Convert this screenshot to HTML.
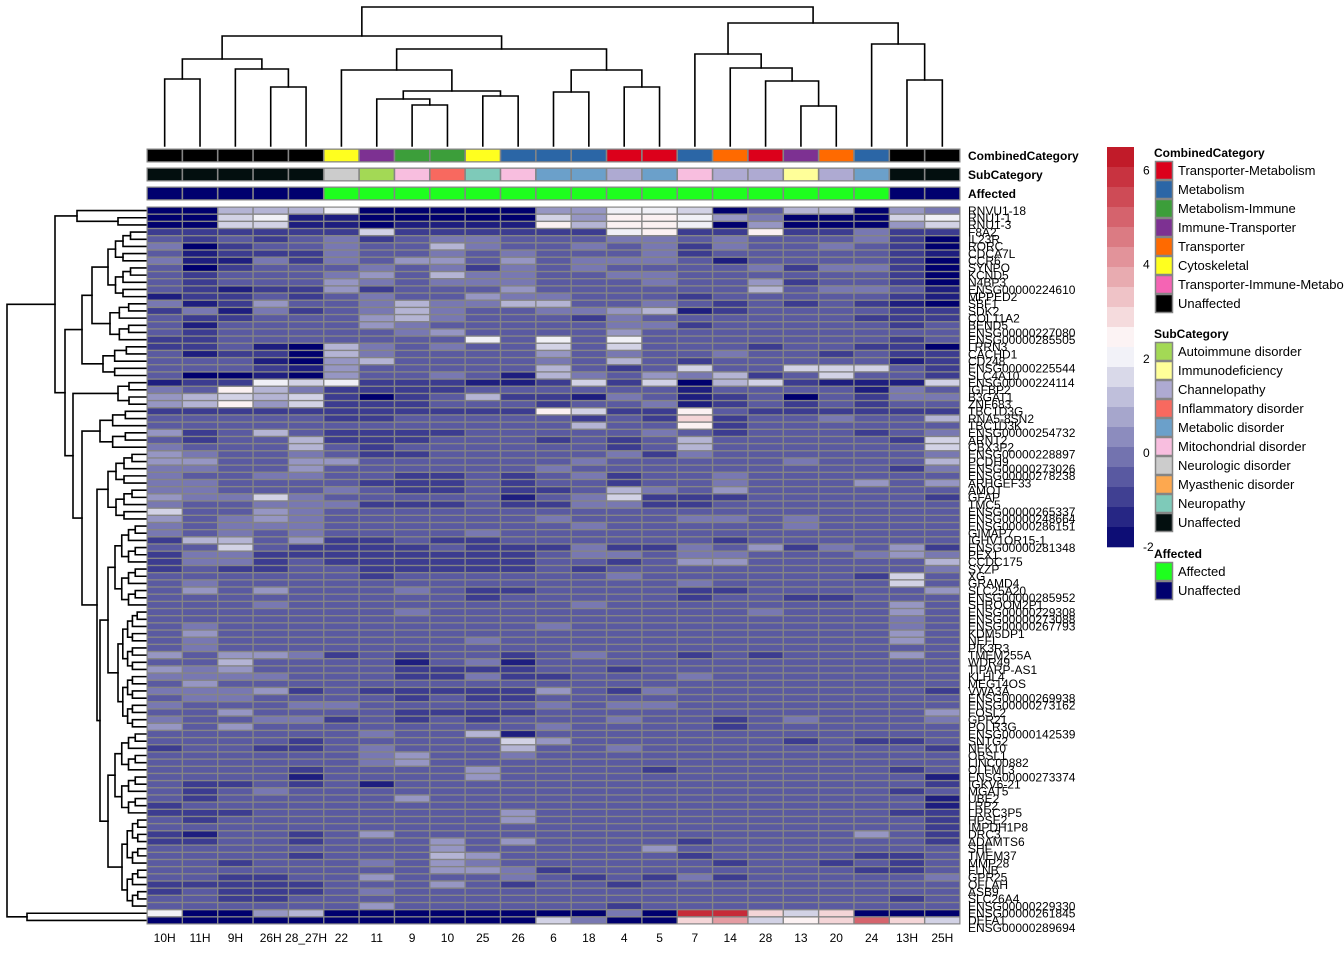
<!DOCTYPE html>
<html><head><meta charset="utf-8"><style>
html,body{margin:0;padding:0;background:#fff;}
svg{display:block;font-family:"Liberation Sans",Arial,sans-serif;}
</style></head><body>
<svg id="chart" width="1344" height="960" viewBox="0 0 1344 960" xmlns="http://www.w3.org/2000/svg">
<g id="dendro-col"></g>
<g id="dendro-row"></g>
<g id="annot"></g>
<g id="cells"></g>
<g id="rowlabels" font-size="12"></g>
<g id="collabels" font-size="12"></g>
<g id="legend" font-size="12"></g>
</svg>
<script>
// ---- data ----
const columns = ["10H","11H","9H","26H","28_27H","22","11","9","10","25","26","6","18","4","5","7","14","28","13","20","24","13H","25H"];
const combinedCat = ["Unaffected","Unaffected","Unaffected","Unaffected","Unaffected","Cytoskeletal","Immune-Transporter","Metabolism-Immune","Metabolism-Immune","Cytoskeletal","Metabolism","Metabolism","Metabolism","Transporter-Metabolism","Transporter-Metabolism","Metabolism","Transporter","Transporter-Metabolism","Immune-Transporter","Transporter","Metabolism","Unaffected","Unaffected"];
const subCat = ["Unaffected","Unaffected","Unaffected","Unaffected","Unaffected","Neurologic disorder","Autoimmune disorder","Mitochondrial disorder","Inflammatory disorder","Neuropathy","Mitochondrial disorder","Metabolic disorder","Metabolic disorder","Channelopathy","Metabolic disorder","Mitochondrial disorder","Channelopathy","Channelopathy","Immunodeficiency","Channelopathy","Metabolic disorder","Unaffected","Unaffected"];
const affected = ["Unaffected","Unaffected","Unaffected","Unaffected","Unaffected","Affected","Affected","Affected","Affected","Affected","Affected","Affected","Affected","Affected","Affected","Affected","Affected","Affected","Affected","Affected","Affected","Unaffected","Unaffected"];
const rowLabels = ["RNVU1-18","RNU1-1","RNU1-3","F8A2","IL23R","RORC","CDCA7L","CCR6","SYNPO","KCND5","N4BP3","ENSG00000224610","MPPED2","SBF1","SDK2","COL11A2","BEND5","ENSG00000227080","ENSG00000285505","LRRN3","CACHD1","CD248","ENSG00000225544","SLC4A10","ENSG00000224114","IGFBP2","B3GAT1","ZNF683","TBC1D3G","RNA5-8SN2","TBC1D3K","ENSG00000254732","ARNT2","CBX3P2","ENSG00000228897","PCDH9","ENSG00000273026","ENSG00000278238","ARHGEF33","AMOT","GFAP","TMC5","ENSG00000265337","ENSG00000248664","ENSG00000286151","GIMAP7","IGHV1OR15-1","ENSG00000281348","PEX1","CCDC175","SYZP","XG","GRAMD4","SLC25A20","ENSG00000285952","SHROOM2P1","ENSG00000229308","ENSG00000273088","ENSG00000267793","KDM5DP1","NEFL","PIK3R3","TMEM255A","WDR49","TIPARP-AS1","KLHL4","MEG14OS","VWA3A","ENSG00000269938","ENSG00000273162","FOSL2","GPR21","POLR3G","ENSG00000142539","SNTG2","NEK10","OBSL1","LINC00882","OLFML3","ENSG00000273374","IGKV6-21","MGAT5","UBE2","LRP2","LRRC3P5","HPSE2","IMPDH1P8","DRC3","ADAMTS6","SHF","TMEM37","MMP28","FLNB","GPR25","OFLAH","ASB9","SLC26A4","ENSG00000229330","ENSG00000261845","DEFA1","ENSG00000289694"];
// one string per gene row, one char per column; code -> z-score via codeValue
const codeValue = {"0":-2,"1":-1.5,"2":-1,"3":-0.5,"4":0,"5":0.5,"6":1,"7":1.5,"8":2,"9":2.5,"a":3,"b":4,"B":5,"C":6};
const matrixRows = [
"00666800000558870366054","00781100000759985400078","00771101111969980500057","22222272222228922922422",
"32323423443334434333420","40233433643343424334320","31222433434333423333321","41142435535344431333320",
"30233343424343333424420","32333453644334433333320","32333543444333433523320","32122523335333333634431",
"12232343354433323333321","41253346446633432323210","24142346433445612333322","32233356433324333333222",
"31333354333334423333323","32333334533335333333333","22333333383838333333323","22310643433737333233220",
"31220643333534334332322","33310563333436323333312","33321533333632373377732","30010533431643546237332",
"12287822211272706721117","43964222233333313333143","56767202362214312303244","56957222333233412323233",
"22222222222972293222222","333332233333232a2334336","33333333333363392333333","52363222233333432333234",
"32336222333232363333327","43336323333332363333337","54334322333334243333334","55335533333343333343336",
"44335333333433333333324","43344332232342334333333","44333322232332334333535","44333432232236435333333",
"54474333331347222333332","43344422232244223333333","73354333333333333333333","53454333333433344343333",
"43444333333343333343333","43434333343333333333333","26635223223333332333333","33732222322242243524352",
"24422222222344344333454","24423222222332355333336","23223322222323333333334","33333323333334333333273",
"34333333333333343333373","35353334322333322333335","33333333323333323322333","33343333333343333333353",
"33333334333333333433353","33333333333333333333343","34333333333433333333343","35333333333333333333353",
"34333333343333333333353","34333333333333333333333","53554232332343323233353","33633331341333333333333",
"54533332222332333333333","44443332242233343333333","35333333333333333333333","44452322222532433333332",
"34433332322333333333333","43334433333434433333333","33533332222333333333335","43344232323334332343334",
"53533333333433332333333","33333343361333333333333","33332333337533333323223","23322343336334333333332",
"33333345334333333333333","33333345333333333333333","33332333353333233333323","33331333353333333333331",
"32232313333333333333332","32343333333333333333323","32333335333333333333331","23333333333333333333331",
"22233333335333333333322","32333333335333333333332","33333333333333333333332","21332353333333333333532",
"22332333535333323333332","33333333533333533333333","33332333653333323333223","33233343543333332332323",
"33333333554233333333223","33223353334323242333334","22222333532332333333333","23222343333333333333333",
"33223333333333333333323","33333353333332333333333","800560000000040CCa7a000","000000000007400ab79aBa7"
];
const legendTicks = [6,4,2,0,-2];
const combinedLevels = ["Transporter-Metabolism","Metabolism","Metabolism-Immune","Immune-Transporter","Transporter","Cytoskeletal","Transporter-Immune-Metabolism","Unaffected"];
const subLevels = ["Autoimmune disorder","Immunodeficiency","Channelopathy","Inflammatory disorder","Metabolic disorder","Mitochondrial disorder","Neurologic disorder","Myasthenic disorder","Neuropathy","Unaffected"];
const affLevels = ["Affected","Unaffected"];

// ---- styling (not data) ----
const combinedColors = {"Transporter-Metabolism":"#dc001b","Metabolism":"#2b66a6","Metabolism-Immune":"#3c9e3a","Immune-Transporter":"#7d3192","Transporter":"#ff6a00","Cytoskeletal":"#ffff1f","Transporter-Immune-Metabolism":"#f564b4","Unaffected":"#000000"};
const subColors = {"Autoimmune disorder":"#a3d955","Immunodeficiency":"#ffff99","Channelopathy":"#aeaad2","Inflammatory disorder":"#f8695f","Metabolic disorder":"#6ba0ca","Mitochondrial disorder":"#f8bedf","Neurologic disorder":"#cccccc","Myasthenic disorder":"#fda84f","Neuropathy":"#7ecab9","Unaffected":"#030f0f"};
const affColors = {"Affected":"#1eff1e","Unaffected":"#00006e"};

const NS="http://www.w3.org/2000/svg";
function mk(tag, attrs, parent){const e=document.createElementNS(NS,tag);for(const k in attrs)e.setAttribute(k,attrs[k]);parent.appendChild(e);return e;}

const X0=147, X1=960, Y0=207, Y1=924;
const nC=columns.length, nR=matrixRows.length;
const cw=(X1-X0)/nC, ch=(Y1-Y0)/nR;
const VMIN=-2, VMAX=6.5, VMID=(VMIN+VMAX)/2;
function colorOf(v){
  const lo=[0,0,110], mid=[255,255,255], hi=[190,15,30];
  let a,b,t;
  if(v<=VMID){t=Math.max(0,(v-VMIN)/(VMID-VMIN));a=lo;b=mid;}
  else{t=Math.min(1,(v-VMID)/(VMAX-VMID));a=mid;b=hi;}
  const c=a.map((x,i)=>Math.round(x+(b[i]-x)*t));
  return "rgb("+c.join(",")+")";
}
const xOf=i=>X0+i*cw, yOf=r=>Y0+r*ch;

// heatmap
const gc=document.getElementById('cells');
const bg=mk('rect',{x:X0-0.5,y:Y0-0.5,width:X1-X0+1,height:Y1-Y0+1,fill:'#858585'},gc);


matrixRows.forEach((row,r)=>{
  for(let c=0;c<nC;c++){
    const v=codeValue[row[c]]!==undefined?codeValue[row[c]]:-0.5;
    const e=mk('rect',{x:xOf(c)+0.7,y:yOf(r)+0.7,width:cw-1.4,height:ch-1.4,fill:colorOf(v)},gc);
    
    
  }
});

// annotations
const ga=document.getElementById('annot');
const annRows=[[combinedCat,combinedColors,149,"CombinedCategory"],[subCat,subColors,168,"SubCategory"],[affected,affColors,187,"Affected"]];
annRows.forEach(([vals,cols,y,name])=>{
  const b=mk('rect',{x:X0-0.5,y:y-0.5,width:X1-X0+1,height:14,fill:'#858585'},ga);
  
  
  vals.forEach((v,c)=>{
    const e=mk('rect',{x:xOf(c)+0.8,y:y+0.8,width:cw-1.6,height:11.4,fill:cols[v]},ga);
    
    
  });
  const t=mk('text',{x:968,y:y+11,'font-size':12,'font-weight':'bold'},ga);
  t.textContent=name;
  
  
});

// row labels
const gr=document.getElementById('rowlabels');
rowLabels.forEach((l,r)=>{
  const t=mk('text',{x:968,y:yOf(r)+ch/2+4.3},gr);
  t.textContent=l;
  
  
});
// column labels
const gl=document.getElementById('collabels');
columns.forEach((l,c)=>{
  const t=mk('text',{x:xOf(c)+cw/2,y:942,'text-anchor':'middle'},gl);
  t.textContent=l;
  
  
});

// dendrograms
function N(h,ch){return {h:h,ch:ch};}
function R(a,b,h0,hEnd){ // balanced subtree over leaf range
  function build(a,b,h,dh){ if(a===b) return a; const m=Math.floor((a+b)/2); return N(h,[build(a,m,h+dh,dh),build(m+1,b,h+dh,dh)]);}
  const depth=Math.ceil(Math.log2(b-a+1));
  return build(a,b,h0,(hEnd-h0)/Math.max(depth,1));
}
const colTree=N(7,[N(36,[N(59,[N(79,[0,1]),N(69,[2,N(87,[3,4])])]),N(49,[N(70,[5,N(91,[N(99,[6,N(105,[7,8])]),N(96,[9,10])])]),N(70,[N(92,[11,12]),N(87,[13,14])])])]),N(23,[N(54,[15,N(68,[16,N(81,[17,N(106,[18,19])])])]),N(44,[20,N(80,[21,22])])])]);
const rowTree=N(7,[N(55,[N(77,[0,N(118,[1,2])]),N(65,[N(82,[N(92,[R(3,12,108,138),R(13,18,110,138)]),R(19,23,103,138)]),N(73,[R(24,27,118,140),N(82,[R(28,33,100,138),N(97,[R(34,43,108,140),N(100,[N(108,[R(44,55,115,142),R(56,72,118,142)]),N(108,[R(73,84,115,142),R(85,97,122,143)])])])])])])]),N(27,[98,99])]);

function drawTree(tree,g,horizontal){
  const leafH=146;
  function pos(n){ if(typeof n==='number') return {p:(horizontal?xOf(n)+cw/2:yOf(n)+ch/2),h:leafH};
    const ps=n.ch.map(pos);
    const lo=Math.min(...ps.map(q=>q.p)), hi=Math.max(...ps.map(q=>q.p));
    let d='';
    ps.forEach(q=>{ d+= horizontal? `M${q.p},${q.h}V${n.h}` : `M${q.h},${q.p}H${n.h}`; });
    d+= horizontal? `M${lo},${n.h}H${hi}` : `M${n.h},${lo}V${hi}`;
    const e=mk('path',{d:d,stroke:'#000','stroke-width':1.6,fill:'none','stroke-linecap':'square'},g);
    
    
    const mid=(ps[0].p+ps[ps.length-1].p)/2;
    return {p:mid,h:n.h};
  }
  pos(tree);
}
drawTree(colTree,document.getElementById('dendro-col'),true);
drawTree(rowTree,document.getElementById('dendro-row'),false);

// legend
const lg=document.getElementById('legend');
const nb=20, by0=147, by1=547, bh=(by1-by0)/nb;
for(let i=0;i<nb;i++){
  const v=VMAX-(i+0.5)*(VMAX-VMIN)/nb;
  const e=mk('rect',{x:1107,y:by0+i*bh,width:27,height:bh+0.3,fill:colorOf(v)},lg);
  
  
}
legendTicks.forEach(v=>{
  const y=by0+(VMAX-v)/(VMAX-VMIN)*(by1-by0);
  const t=mk('text',{x:1143,y:y+4},lg);
  t.textContent=String(v);
  
  
});
function legendGroup(title,levels,cols,ty){
  const t=mk('text',{x:1154,y:ty+4,'font-weight':'bold'},lg);
  t.textContent=title;
  
  
  levels.forEach((l,i)=>{
    const y=ty+8+i*19;
    const r=mk('rect',{x:1155.5,y:y+0.5,width:17,height:18,fill:cols[l],stroke:'#858585','stroke-width':1.5},lg);
    
    
    const tx=mk('text',{x:1178,y:y+14,'font-size':13},lg);
    tx.textContent=l;
    
    
  });
}
legendGroup("CombinedCategory",combinedLevels,combinedColors,153);
legendGroup("SubCategory",subLevels,subColors,334);
legendGroup("Affected",affLevels,affColors,554);
</script>
</body></html>
